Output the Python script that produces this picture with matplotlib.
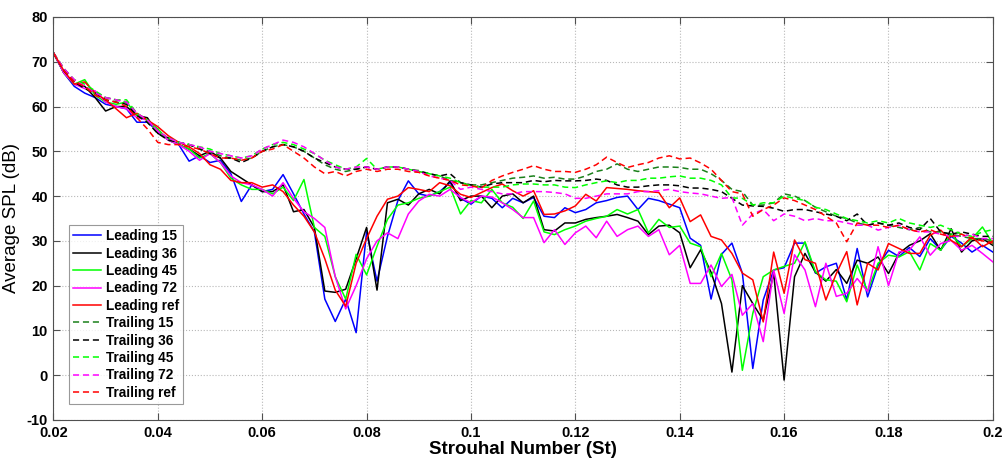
import numpy as np
import matplotlib.pyplot as plt
import matplotlib

matplotlib.rcParams['font.family'] = ['Liberation Sans', 'DejaVu Sans']
matplotlib.rcParams['axes.unicode_minus'] = False

# Strouhal number grid
st = np.round(np.arange(0.02, 0.2001, 0.002), 3)

lead_15 = [72, 67.5, 64.5, 63, 62, 60.5, 60, 59.5, 56.5, 56.5,
           54.5, 52.5, 51.5, 47.8, 49, 47.5, 48, 45, 38.8, 42.5,
           41, 41.5, 44.8, 40.5, 36, 32, 17, 12, 17, 9.5,
           32, 21, 31, 39, 43.4, 40.5, 40, 41, 43, 39.5,
           38.2, 40, 39.5, 37.4, 39.5, 38.5, 39.7, 35.5, 35.2, 37.4,
           36.3, 37, 38.5, 39, 39.7, 40, 37, 39.5, 39, 38.2,
           37.4, 30.6, 29, 17, 27, 29.5, 22.8, 1.5, 16.8, 23.5,
           24, 29.5, 29.5, 22.8, 24.2, 25, 16.8, 28.3, 17.5, 24.5,
           27.9, 26.5, 28.5, 26.5, 30.5, 28, 31, 29.5, 27.5, 29,
           27.5]
lead_36 = [72, 67.5, 65, 64.5, 62, 59, 60, 60, 58, 57.5,
           54, 53, 51.5, 50.5, 49, 50, 48.5, 45.5, 44, 42.5,
           41, 41, 42.5, 36.5, 37, 33, 18.8, 18.5, 19.2, 26,
           33, 19, 38.5, 39.3, 38, 40.5, 41.5, 40.5, 43.4, 39,
           40, 40, 37.4, 40, 40.5, 38.5, 40, 32.5, 32.2, 34,
           34, 34.8, 35.2, 35.5, 35.9, 35.2, 34.4, 31.4, 33.3, 33.5,
           31.8, 24, 28, 23, 16, 0.7, 20, 16, 12.3, 22.8,
           -1.1, 22, 27.2, 23, 21, 23.6, 20.5, 25.7, 25, 26.4,
           22.7, 27.2, 29, 30, 31.6, 27.9, 32.7, 27.5, 30, 30.5,
           29]
lead_45 = [72, 67.5, 65, 66, 62.5, 61, 60.5, 61, 58, 57,
           55, 52.5, 51.5, 50.5, 48.5, 49.5, 47.5, 44, 42.5, 41.5,
           41.5, 40.5, 42, 39, 43.7, 33, 31, 22, 17, 27,
           22.4, 28.8, 34.8, 38, 38.5, 39.5, 40, 41, 42, 36,
           39, 38.5, 41.5, 38.5, 37.5, 35, 38.9, 32, 31.4, 32.5,
           33.3, 34.4, 35, 35.5, 37, 36, 37, 31.8, 34.8, 33,
           33.3, 29.5, 28.7, 22, 27.2, 21.3, 1.1, 13.8, 22, 23.5,
           24.3, 25, 29.8, 23.1, 21.3, 21, 16.4, 24.6, 18.7, 25,
           26.8, 26.4, 27.6, 23.5, 29.4, 27.9, 31.6, 28.7, 30.5, 33.1,
           29.4]
lead_72 = [72, 67.5, 65, 64, 63.5, 61, 60, 59.5, 57.5, 57,
           54.5, 52.5, 51.5, 50, 48, 49.5, 47.5, 44.5, 43, 42.5,
           41.5, 40, 43, 39.5, 36.5, 35, 33, 22, 14.8, 20,
           26, 30, 31.8, 30.5, 36, 38.9, 40.4, 40, 41.5, 39.7,
           38.5, 40, 39.8, 38.5, 37, 35.2, 35.2, 29.6, 32.5, 29.2,
           31.8, 33.3, 30.7, 34.4, 31, 32.5, 33.3, 31, 32.5, 26.9,
           29, 20.5, 20.5, 24.6, 19.8, 22.5, 13.4, 16, 7.5, 23.5,
           13.8, 26.9, 23.5, 15.3, 25, 17.6, 18.3, 21.6, 18.7, 28.7,
           20, 27.5, 27.9, 30.9, 26.8, 29.4, 30.1, 27.9, 29, 27.2,
           25.3]
lead_ref = [72, 68, 65, 65.5, 63, 61.5, 59.5, 57.5, 58.5, 57,
            55.5, 53.5, 52, 51, 49.5, 47, 46, 43.5, 43, 43,
            42, 42.5, 41, 38, 35.5, 32, 26, 19, 15.4, 25,
            30.5, 35.5, 39.3, 40, 41.9, 41.5, 41, 43, 42.3, 40.4,
            39.7, 40.8, 41.9, 42.7, 41.2, 40, 41.2, 35.9, 36, 36.7,
            37.8, 40.4, 38.9, 41.9, 41.7, 41.5, 41.2, 41, 40.8, 37.4,
            39.6, 34.3, 35.8, 31, 30.2, 27.2, 22.8, 21.3, 11.9, 27.5,
            18.3, 30.2, 25.8, 25, 16.8, 22.7, 27.6, 15.7, 25, 23.5,
            29.4, 28.3, 27.2, 27.2, 31.3, 32.4, 30.1, 28.7, 30.9, 28.7,
            30]

trail_15 = [72, 68.5, 65.5, 64.5, 63, 62, 61.5, 61, 58.5, 56.5,
            54, 53, 52, 51.5, 50.5, 50, 49, 48.5, 48, 48.5,
            50, 51, 51.5, 51, 50, 48.5, 47, 46, 45.5, 46,
            46.5, 46, 46.5, 46.5, 46, 45.7, 45, 44.5, 43.5, 43,
            42.5, 42.5, 43, 43.5, 44, 44.2, 44.5, 44, 44.2, 43.8,
            43.8, 44.5, 45.5, 46, 47.2, 46, 45.5, 46, 46.5, 46.5,
            46.4, 46, 46, 45, 43.5, 41.5, 41, 38, 38, 38.5,
            40.5, 40, 39, 37.5, 36.5, 35.5, 35, 34, 33.5, 34,
            33.5, 33, 32.5, 33, 32, 32, 31.5, 31, 30.5, 30.5,
            30]
trail_36 = [72, 68, 65.5, 64, 63, 61.5, 61, 60.5, 58, 56.5,
            54, 52.5, 52, 51.5, 50.5, 49.5, 48.5, 48.5, 47.5, 48.5,
            50, 51, 51.5, 51, 50, 48.5, 47.5, 46.5, 46, 46,
            46.5, 46, 46.5, 46.5, 46, 45.5, 45, 44.5, 45, 43,
            42.5, 42, 42.7, 43, 43, 43, 43.5, 43.2, 43.5, 43.4,
            43.4, 43.5, 43.8, 43.5, 42.5, 42, 42, 42.3, 42.5, 42.5,
            42.3, 41.8, 41.8, 41.5, 41, 39.5, 38, 37.8, 37.7, 37.3,
            36.6, 37, 37, 36.5, 36, 35.5, 34.5, 36, 33.5, 34,
            33.5, 34, 33, 32.5, 35, 32, 31.5, 32, 31.5, 31,
            31]
trail_45 = [72, 68.5, 66, 65, 63.5, 62, 61.5, 61.5, 58.5, 57,
            54.5, 53, 52, 51.5, 51, 50.5, 49.5, 49, 48.5, 49,
            50.5, 51.5, 52, 51.5, 50.5, 49.5, 48, 47, 46, 46.5,
            48.4, 46, 46.5, 46.5, 46, 45.5, 45, 44.5, 44, 43,
            42.3, 42, 42, 42, 42.5, 42.7, 42.7, 42.5, 42.5, 42,
            41.9, 42.5, 43, 43.4, 43, 43.5, 43.5, 44, 44, 44.3,
            44.5, 44, 44, 43.5, 42.5, 39.6, 39.5, 38, 38.5, 38.5,
            40, 39.5, 39, 37.5, 37, 36, 35, 34.5, 34, 34.5,
            34, 35, 34, 33.5, 33, 33.5, 32.5, 31.5, 31, 32,
            32.5]
trail_72 = [72, 68.5, 66, 64.5, 63, 62, 61.5, 61, 58.5, 57,
            54.5, 53, 52, 51.5, 51, 50, 49.5, 49, 48.5, 49,
            50.5, 51.5, 52.5, 52, 51, 49.5, 48, 46.5, 46, 46.5,
            46.5, 46, 46.5, 46.5, 46, 45.5, 44.5, 44, 43.5, 41.5,
            42, 41.5, 41, 40.5, 40.5, 41, 41, 41, 40.8, 40.5,
            39.5, 39.5, 40, 40.5, 40.5, 40.5, 41, 41, 41.2, 41.5,
            41, 40.7, 40.5, 40, 39.5, 39.7, 33.5, 36, 37, 34.5,
            36, 35.5, 34.5, 35, 34.5, 34.5, 34, 33.5, 33.5, 32.4,
            33, 33.5, 32.5, 32, 32, 31.5, 31, 31, 31.5, 30.5,
            30.5]
trail_ref = [72, 68, 65.5, 64.5, 62.5, 61.5, 61, 60, 57.5, 55,
             52, 51.5, 51.5, 51, 50.5, 49.5, 48.5, 48.5, 48, 48.5,
             50, 50.5, 51.5, 50, 48.5, 46.5, 45, 45.5, 44.5, 45.5,
             46, 45.5, 46, 46, 45.5, 45.3, 44.5, 44, 43.5, 42.5,
             42.3, 41.8, 43.5, 44.5, 45.3, 46, 46.8, 46, 45.5, 45.5,
             45.3, 46, 47, 48.7, 47.5, 46.4, 47, 47.5, 48.5, 49,
             48.3, 48.5, 47.4, 46, 43.5, 41, 40.5, 35.5, 37, 38,
             39.6, 39, 38, 37, 35.5, 34, 29.8, 34, 33.5, 33.5,
             33, 33.5, 32.5, 32, 32.5, 31.5, 31, 31.5, 30.5, 30,
             29.5]

x_ticks = [0.02, 0.04, 0.06, 0.08, 0.1, 0.12, 0.14, 0.16, 0.18, 0.2]
x_labels = ['0.02', '0.04', '0.06', '0.08', '0.1', '0.12', '0.14', '0.16', '0.18', '0.2']

fig = plt.figure(figsize=(10.08, 4.59), dpi=100)
ax = fig.add_axes([0.053, 0.085, 0.932, 0.878])

dash = (4, 2.5)
ax.plot(st, lead_15, color='#0000ff', lw=1.1, label='Leading 15')
ax.plot(st, lead_36, color='#000000', lw=1.1, label='Leading 36')
ax.plot(st, lead_45, color='#00ff00', lw=1.1, label='Leading 45')
ax.plot(st, lead_72, color='#ff00ff', lw=1.1, label='Leading 72')
ax.plot(st, lead_ref, color='#ff0000', lw=1.1, label='Leading ref')
ax.plot(st, trail_15, color='#1a801a', lw=1.1, dashes=dash, label='Trailing 15')
ax.plot(st, trail_36, color='#000000', lw=1.1, dashes=dash, label='Trailing 36')
ax.plot(st, trail_45, color='#00ff00', lw=1.1, dashes=dash, label='Trailing 45')
ax.plot(st, trail_72, color='#ff00ff', lw=1.1, dashes=dash, label='Trailing 72')
ax.plot(st, trail_ref, color='#ff0000', lw=1.1, dashes=dash, label='Trailing ref')

ax.set_xlim(0.02, 0.2)
ax.set_ylim(-10, 80)
ax.set_xticks(x_ticks)
ax.set_xticklabels(x_labels)
ax.set_yticks(range(-10, 81, 10))
ax.grid(True, linestyle=':', color='#b8b8b8', lw=0.8)
ax.tick_params(direction='in', top=True, right=True, length=5, color='#505050',
               labelsize=10.5, pad=4)
for lab in ax.get_xticklabels() + ax.get_yticklabels():
    lab.set_fontweight('bold')
for s in ax.spines.values():
    s.set_color('#505050')

ax.set_xlabel('Strouhal Number (St)', fontsize=13.5, fontweight='bold', labelpad=1)
ax.set_ylabel('Average SPL (dB)', fontsize=13.5, labelpad=5)

leg = ax.legend(loc='lower left', bbox_to_anchor=(0.017, 0.04),
                prop={'weight': 'bold', 'size': 9.8}, fancybox=False,
                edgecolor='#808080', handlelength=2.0, labelspacing=0.25,
                borderpad=0.3, handletextpad=0.4, borderaxespad=0)
leg.get_frame().set_linewidth(0.8)

plt.savefig('out.png', dpi=100)
